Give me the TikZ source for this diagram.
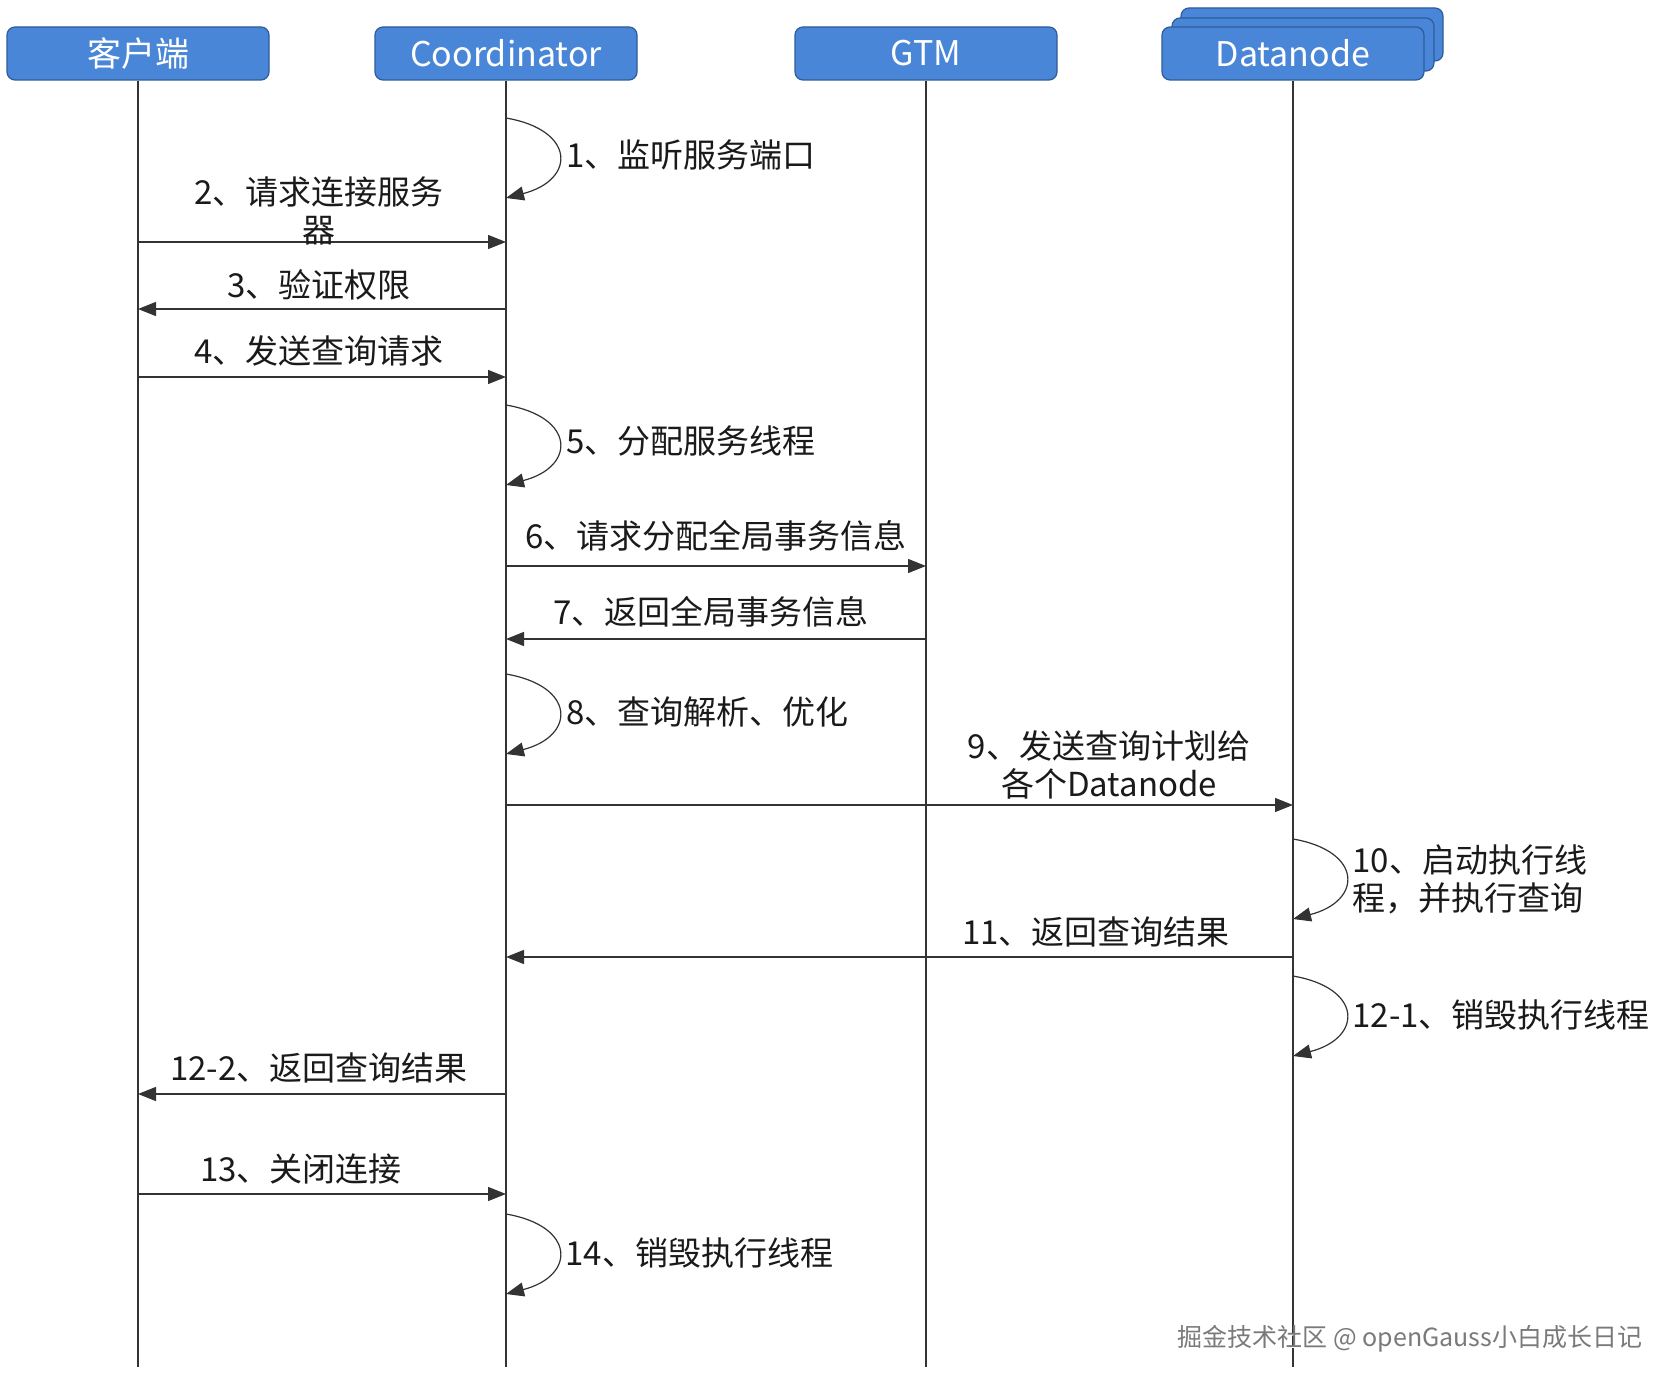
\documentclass[tikz,border=0pt]{standalone}
\usepackage{fontspec}
\setmainfont{Noto Sans CJK SC}
\usetikzlibrary{arrows.meta}
\definecolor{hdr}{HTML}{4A86D8}
\definecolor{hdrline}{HTML}{2F5B9A}
\definecolor{linec}{HTML}{333333}
\definecolor{textc}{HTML}{1A1A1A}
\definecolor{wm}{HTML}{7A7A7A}
\begin{document}
\begin{tikzpicture}[x=0.5pt,y=-0.5pt,
  hdrbox/.style={draw=hdrline, line width=0.6pt, fill=hdr, rounded corners=4pt,
    minimum width=131pt, minimum height=26.5pt, inner sep=0pt,
    text=white, font=\fontsize{17}{20}\selectfont},
  life/.style={draw=linec, line width=0.6pt},
  msg/.style={draw=linec, line width=0.6pt, -{Triangle[length=9pt,width=7pt]}},
  lbl/.style={font=\fontsize{16.5}{19}\selectfont, text=textc, inner sep=0pt, align=center},
  lbll/.style={lbl, anchor=west, align=left}]
\useasboundingbox (0,0) rectangle (1680,1390);
\fill[white] (0,0) rectangle (1680,1390);

% headers
\node[hdrbox] (cl) at (138,53.5) {客户端};
\node[hdrbox] (co) at (506,53.5) {Coordinator};
\node[hdrbox] (gt) at (926,53.5) {GTM};
\node[hdrbox] (dn3) at (1312,34.5) {};
\node[hdrbox] (dn2) at (1303,44.5) {};
\node[hdrbox] (dn) at (1293,53.5) {Datanode};

% lifelines
\coordinate (clE) at (cl |- 0,1367);
\coordinate (coE) at (co |- 0,1367);
\coordinate (gtE) at (gt |- 0,1367);
\coordinate (dnE) at (dn |- 0,1367);
\draw[life] (cl.south) -- (clE);
\draw[life] (co.south) -- (coE);
\draw[life] (gt.south) -- (gtE);
\draw[life] (dn.south) -- (dnE);

% 1
\draw[msg] (co |- 0,118) .. controls +(70,12) and +(70,-18) .. (co |- 0,198);
\node[lbll] (l1) at (566,155) {1、监听服务端口};
% 2
\draw[msg] (cl |- 0,242) -- (co |- 0,242);
\node[lbl] (l2) at (319,211) {2、请求连接服务\\器};
% 3
\draw[msg] (co |- 0,309) -- (cl |- 0,309);
\node[lbl] (l3) at (319,285) {3、验证权限};
% 4
\draw[msg] (cl |- 0,377) -- (co |- 0,377);
\node[lbl] (l4) at (319,351) {4、发送查询请求};
% 5
\draw[msg] (co |- 0,405) .. controls +(70,12) and +(70,-18) .. (co |- 0,485);
\node[lbll] (l5) at (566,441) {5、分配服务线程};
% 6
\draw[msg] (co |- 0,566) -- (gt |- 0,566);
\node[lbl] (l6) at (716,536) {6、请求分配全局事务信息};
% 7
\draw[msg] (gt |- 0,639) -- (co |- 0,639);
\node[lbl] (l7) at (711,612) {7、返回全局事务信息};
% 8
\draw[msg] (co |- 0,674) .. controls +(70,12) and +(70,-18) .. (co |- 0,754);
\node[lbll] (l8) at (566,712) {8、查询解析、优化};
% 9
\draw[msg] (co |- 0,805) -- (dn |- 0,805);
\node[lbl] (l9) at (1109,765) {9、发送查询计划给\\各个Datanode};
% 10
\draw[msg] (dn |- 0,839) .. controls +(70,12) and +(70,-18) .. (dn |- 0,919);
\node[lbll] (l10) at (1352,879) {10、启动执行线\\程，并执行查询};
% 11
\draw[msg] (dn |- 0,957) -- (co |- 0,957);
\node[lbl] (l11) at (1096,932) {11、返回查询结果};
% 12-1
\draw[msg] (dn |- 0,976) .. controls +(70,12) and +(70,-18) .. (dn |- 0,1056);
\node[lbll] (l121) at (1352,1015) {12-1、销毁执行线程};
% 12-2
\draw[msg] (co |- 0,1094) -- (cl |- 0,1094);
\node[lbl] (l122) at (319,1068) {12-2、返回查询结果};
% 13
\draw[msg] (cl |- 0,1194) -- (co |- 0,1194);
\node[lbl] (l13) at (301,1169) {13、关闭连接};
% 14
\draw[msg] (co |- 0,1214) .. controls +(70,12) and +(70,-18) .. (co |- 0,1294);
\node[lbll] (l14) at (565,1253) {14、销毁执行线程};

% watermark
\node[font=\fontsize{12.5}{14}\selectfont, text=white, inner sep=0pt] (wms) at (1411,1340) {掘金技术社区 @ openGauss小白成长日记};
\node[font=\fontsize{12.5}{14}\selectfont, text=wm, inner sep=0pt] (wmk) at (1410,1339) {掘金技术社区 @ openGauss小白成长日记};
\end{tikzpicture}
\end{document}
